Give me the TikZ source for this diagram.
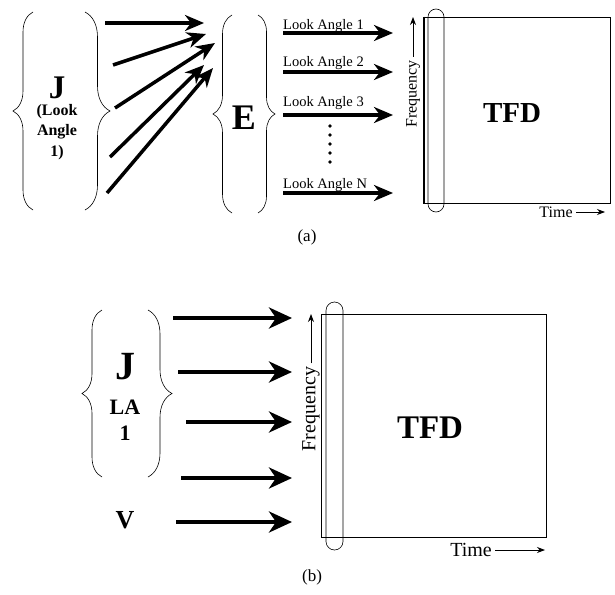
\documentclass[tikz,border=0pt]{standalone}
\usepackage{fontspec}
\setmainfont{Liberation Serif}
\usetikzlibrary{positioning, arrows.meta, decorations.pathreplacing}
\tikzstyle{fatarrow} = [line width=3.5pt, -{Stealth[length=19pt,width=16pt,inset=6pt]}]
\tikzstyle{bigarrow} = [line width=4.5pt, -{Stealth[length=23pt,width=21pt,inset=7pt]}]
\tikzstyle{axisarrow} = [line width=0.8pt, -{Stealth[length=8pt,width=6pt]}]
\tikzset{curly/.style={line width=0.6pt, decorate, decoration={brace, amplitude=#1}}}
\newcommand{\fsz}[1]{\fontsize{#1}{#1}\selectfont}

\begin{document}
\begin{tikzpicture}[x=1pt, y=-1pt]
    \useasboundingbox (0,0) rectangle (615,594);

    % (a): braces
    \draw[curly=20] (33,210) -- (33,12);
    \draw[curly=25] (85,12) -- (85,210);
    \draw[curly=19] (232,213) -- (232,15);
    \draw[curly=17] (258,15) -- (258,213);

    % (a): nodes
    \node[font=\bfseries\fsz{33}] (Ja) at (57,88) {J};
    \node[font=\bfseries\fontsize{16}{20.5}\selectfont, align=center] (lookA) at (57,132) {(Look\\Angle\\1)};
    \node[font=\bfseries\fsz{36}] (Ea) at (244,118) {E};
    \node[draw, line width=0.6pt, minimum width=187pt, minimum height=186pt, inner sep=0pt] (tfdA) at (516.5,110) {};
    \node[font=\bfseries\fsz{29}] (tfdlabA) at (512,113) {TFD};
    \node[draw, line width=0.6pt, rounded corners=8pt, minimum width=16pt, minimum height=203pt, inner sep=0pt] (winA) at (436,110.5) {};
    \node[rotate=90, font=\fsz{16}] (freqA) at (413,94) {Frequency};
    \node[font=\fsz{16}] (timeA) at (556,212) {Time};
    \node[font=\fsz{17}] (capA) at (307,237) {(a)};
    \coordinate (freqtipA) at (413,17);
    \coordinate (timetipA) at (605,212);

    % (a): J to E
    \foreach \sx/\sy/\tx/\ty [count=\i] in {105/23/204/23, 113/65/206/34, 115/108/215/43, 110/157/204/65, 107/193/213/68} {
        \coordinate (fs\i) at (\sx,\sy);
        \coordinate (ft\i) at (\tx,\ty);
        \draw[fatarrow] (fs\i) -- (ft\i);
    }

    % (a): look angles
    \foreach \y/\ly/\lab [count=\i] in {33/26/1, 72/63/2, 115/103/3, 193/185/N} {
        \node[anchor=west, inner sep=0pt, font=\fsz{14.5}] (la\i) at (283,\ly) {Look Angle \lab};
        \coordinate (las\i) at (283,\y);
        \coordinate (lat\i) at (393,\y);
        \draw[fatarrow] (las\i) -- (lat\i);
    }
    \foreach \k in {0,...,4}
        \fill (330,126+9*\k) circle (1.8pt);

    % (a): box edges and axes
    \draw[line width=0.6pt] ([xshift=2pt]tfdA.north west) -- ([xshift=2pt]tfdA.south west);
    \draw[axisarrow] (freqA.east) -- (freqtipA);
    \draw[axisarrow] (timeA.east) -- (timetipA);

    % (b): braces
    \draw[curly=20] (102,477) -- (102,310);
    \draw[curly=24] (148,310) -- (148,477);

    % (b): nodes
    \node[font=\bfseries\fsz{40}] (Jb) at (125,367) {J};
    \node[font=\bfseries\fontsize{22}{26}\selectfont, align=center] (lab) at (125,420) {LA\\1};
    \node[font=\bfseries\fsz{26}] (Vb) at (125,520) {V};
    \node[draw, line width=0.6pt, minimum width=225pt, minimum height=223pt, inner sep=0pt] (tfdB) at (433.5,425.5) {};
    \node[font=\bfseries\fsz{33}] (tfdlabB) at (430,428) {TFD};
    \node[draw, line width=0.6pt, rounded corners=8.5pt, minimum width=17pt, minimum height=248pt, inner sep=0pt] (winB) at (334.5,426) {};
    \node[rotate=90, font=\fsz{20}] (freqB) at (311,409) {Frequency};
    \node[font=\fsz{20}] (timeB) at (471,550) {Time};
    \node[font=\fsz{17}] (capB) at (312,577) {(b)};
    \coordinate (freqtipB) at (311,314);
    \coordinate (timetipB) at (545,550);

    % (b): arrows
    \foreach \sx/\y [count=\i] in {173/318, 178/372, 186/422, 181/478, 176/522} {
        \coordinate (bs\i) at (\sx,\y);
        \coordinate (bt\i) at (292,\y);
        \draw[bigarrow] (bs\i) -- (bt\i);
    }
    \draw[axisarrow] (freqB.east) -- (freqtipB);
    \draw[axisarrow] (timeB.east) -- (timetipB);
\end{tikzpicture}
\end{document}
